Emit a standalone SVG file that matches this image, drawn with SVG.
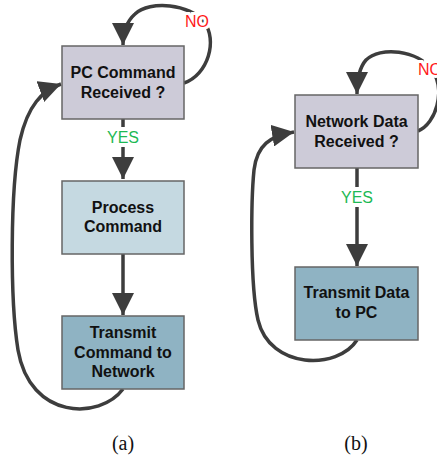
<svg xmlns="http://www.w3.org/2000/svg" width="437" height="461" viewBox="0 0 437 461">
<style>
.box{stroke:#666;stroke-width:1.5}
.q{fill:#cdcbd8}
.p{fill:#c5d9e1}
.t{fill:#8fb3c3}
.lbl{font-family:"Liberation Sans",Arial,sans-serif;font-weight:bold;font-size:16px;fill:#111;text-anchor:middle}
.con{fill:none;stroke:#3d3d3d;stroke-width:3.5}
.yes{font-family:"Liberation Sans",Arial,sans-serif;font-size:16px;fill:#1db954;text-anchor:middle;stroke:#fff;stroke-width:8;paint-order:stroke}
.no{font-family:"Liberation Sans",Arial,sans-serif;font-size:16px;fill:#ff1a1a;text-anchor:middle;stroke:#fff;stroke-width:6;paint-order:stroke}
.cap{font-family:"Liberation Serif","Times New Roman",serif;font-size:20px;fill:#111;text-anchor:middle}
</style>
<defs>
<marker id="ah" markerUnits="userSpaceOnUse" markerWidth="22" markerHeight="22" refX="20" refY="10" orient="auto" viewBox="0 0 20 20">
<path d="M0,0 L20,10 L0,20 z" fill="#3d3d3d"/>
</marker>
</defs>
<g id="connectors">
<path class="con" d="M123,119 L123,179" marker-end="url(#ah)"/>
<path class="con" d="M123,254 L123,315" marker-end="url(#ah)"/>
<path class="con" d="M184,83 C208,75 218,40 204,22 C190,4 150,0 135,14 C126,22 123,32 123,45" marker-end="url(#ah)"/>
<path class="con" d="M123,389 C100,420 30,420 18,350 C10,300 10,190 20,140 C28,105 42,91 61,84" marker-end="url(#ah)"/>
<path class="con" d="M357,168 L357,266" marker-end="url(#ah)"/>
<path class="con" d="M418,131 C436,124 446,90 432,70 C418,50 380,46 366,60 C359,68 357,80 357,94" marker-end="url(#ah)"/>
<path class="con" d="M357,340 C338,370 270,370 258,320 C250,285 251,200 254,170 C257,145 270,136 294,132" marker-end="url(#ah)"/>
<text class="yes" x="123" y="143">YES</text>
<text class="no" x="197" y="27">NO</text>
<text class="yes" x="357" y="203">YES</text>
<text class="no" x="418" y="75" style="text-anchor:start">NO</text>
</g>
<g id="n1">
<rect class="box q" x="62" y="46" width="122" height="73"/>
<text class="lbl" x="123" y="78">PC Command</text>
<text class="lbl" x="123" y="98">Received ?</text>
</g>
<g id="n2">
<rect class="box p" x="62" y="181" width="122" height="73"/>
<text class="lbl" x="123" y="213">Process</text>
<text class="lbl" x="123" y="232">Command</text>
</g>
<g id="n3">
<rect class="box t" x="62" y="316" width="122" height="73"/>
<text class="lbl" x="123" y="338">Transmit</text>
<text class="lbl" x="123" y="357.5">Command to</text>
<text class="lbl" x="123" y="377">Network</text>
</g>
<g id="n4">
<rect class="box q" x="295" y="95" width="123" height="73"/>
<text class="lbl" x="356.5" y="127">Network Data</text>
<text class="lbl" x="356.5" y="147">Received ?</text>
</g>
<g id="n5">
<rect class="box t" x="295" y="267" width="123" height="73"/>
<text class="lbl" x="356.5" y="298">Transmit Data</text>
<text class="lbl" x="356.5" y="318">to PC</text>
</g>
<text class="cap" x="123" y="450">(a)</text>
<text class="cap" x="356" y="450">(b)</text>
</svg>
